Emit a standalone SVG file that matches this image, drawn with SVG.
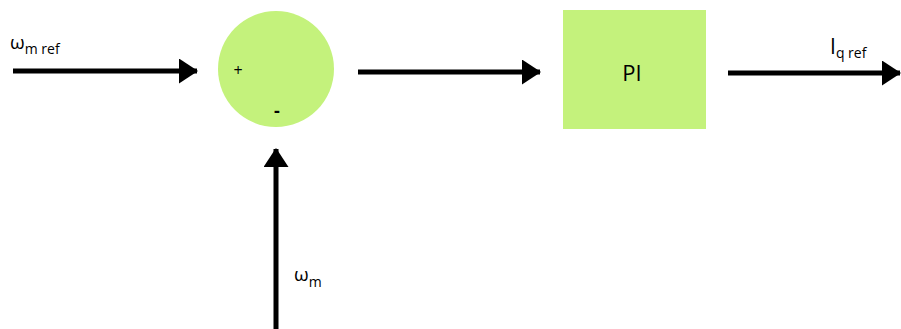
<svg xmlns="http://www.w3.org/2000/svg" width="901" height="329" viewBox="0 0 901 329">
  <style>
    .block { fill: #c4f27c; stroke: none; }
    .wire { stroke: #000; stroke-width: 5; fill: none; }
    .lbl { font-family: "Open Sans", "Liberation Sans", sans-serif; fill: #000; }
    .sym { font-size: 19px; }
    .sub { font-size: 14px; }
  </style>
  <defs>
    <marker id="head" markerUnits="userSpaceOnUse" markerWidth="20" markerHeight="26" refX="18" refY="12.5" orient="auto">
      <path d="M0,0 L19,12.5 L0,25 Z" fill="#000"/>
    </marker>
  </defs>

  <!-- summing junction -->
  <g id="sum">
    <circle class="block" cx="276" cy="69" r="58"/>
    <text class="lbl" x="238" y="76" font-size="16" text-anchor="middle">+</text>
    <text class="lbl" x="277" y="117" font-size="18" font-weight="bold" text-anchor="middle">-</text>
  </g>

  <!-- PI controller -->
  <g id="pi">
    <rect class="block" x="563" y="10" width="143" height="119"/>
    <text class="lbl" x="632" y="81" font-size="22" text-anchor="middle">PI</text>
  </g>

  <!-- signal labels -->
  <g id="label-wref">
    <text class="lbl" x="10" y="49"><tspan class="sym">ω</tspan><tspan class="sub" dy="5">m ref</tspan></text>
  </g>
  <g id="label-wm">
    <text class="lbl" x="294" y="281"><tspan class="sym">ω</tspan><tspan class="sub" dy="6">m</tspan></text>
  </g>
  <g id="label-iqref">
    <text class="lbl" x="830" y="54"><tspan font-size="21">I</tspan><tspan class="sub" dy="4">q ref</tspan></text>
  </g>

  <!-- connectors -->
  <g id="connectors">
    <line class="wire" x1="13" y1="71" x2="197" y2="71" marker-end="url(#head)"/>
    <line class="wire" x1="358" y1="72" x2="540" y2="72" marker-end="url(#head)"/>
    <line class="wire" x1="728" y1="73" x2="900" y2="73" marker-end="url(#head)"/>
    <line class="wire" x1="276" y1="329" x2="276" y2="149" marker-end="url(#head)"/>
  </g>
</svg>
